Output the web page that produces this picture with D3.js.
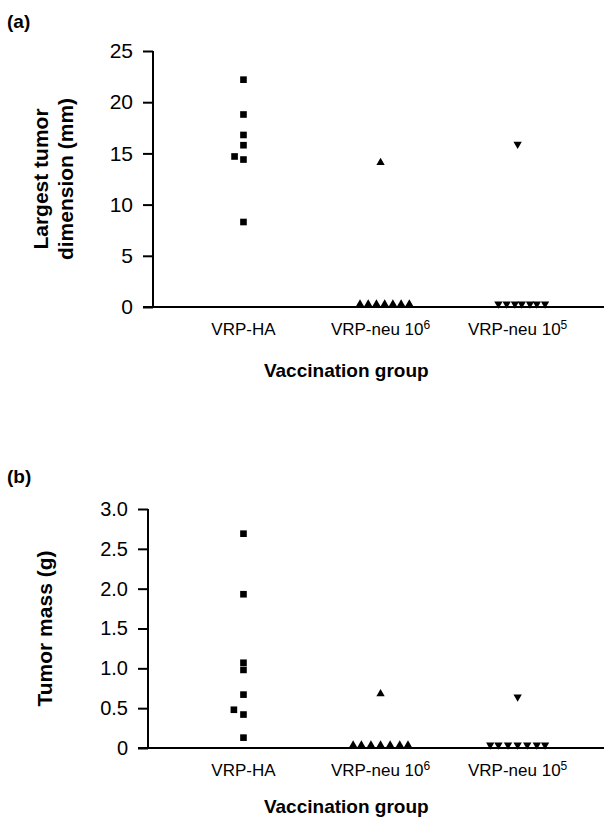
<!DOCTYPE html>
<html>
<head>
<meta charset="utf-8">
<script src="https://cdn.jsdelivr.net/npm/d3@7"></script>
<style>
  body { margin: 0; background: #fff; }
  svg { display: block; font-family: "Liberation Sans", Arial, sans-serif; }
</style>
</head>
<body>
<div id="chart"></div>
<script>
// category labels (base text + superscript)
var categoryNames = ['VRP-HA', 'VRP-neu 10', 'VRP-neu 10'];
var categorySups = ['', '6', '5'];
var categoryPos = [1, 2, 3];

// (a) largest tumor dimension (mm)
var dimHA_x = [1, 1, 1, 1, 0.935, 1, 1];
var dimHA_y = [22.2, 18.8, 16.8, 15.8, 14.7, 14.4, 8.3];
var dimNeu6_x = [2, 1.85, 1.91, 1.97, 2.03, 2.09, 2.15, 2.21];
var dimNeu6_y = [14.1, 0, 0, 0, 0, 0, 0, 0];
var dimNeu5_x = [3, 2.86, 2.92, 2.98, 3.03, 3.09, 3.14, 3.2];
var dimNeu5_y = [15.9, 0, 0, 0, 0, 0, 0, 0];
var dimTicks = [0, 5, 10, 15, 20, 25];

// (b) tumor mass (g)
var massHA_x = [1, 1, 1, 1, 1, 0.93, 1, 1];
var massHA_y = [2.69, 1.93, 1.07, 0.98, 0.67, 0.48, 0.42, 0.13];
var massNeu6_x = [2, 1.8, 1.86, 1.93, 2.0, 2.07, 2.14, 2.2];
var massNeu6_y = [0.68, 0, 0, 0, 0, 0, 0, 0];
var massNeu5_x = [3, 2.8, 2.86, 2.93, 3.0, 3.07, 3.14, 3.2];
var massNeu5_y = [0.64, 0, 0, 0, 0, 0, 0, 0];
var massTicks = [0, 0.5, 1.0, 1.5, 2.0, 2.5, 3.0];

var svgWidth = 606;
var svgHeight = 819;

var svg = d3.select('#chart')
    .append('svg')
    .attr('width', svgWidth)
    .attr('height', svgHeight);

function zip(xs, ys, shape) {
    return xs.map((x, i) => ({ x: x, y: ys[i], shape: shape }));
}

var panels = [
    {
        letter: '(a)', letterY: 28,
        left: 153, right: 604, top: 51, bottom: 307,
        domain: [0, 25], ticks: dimTicks, fmt: d => d,
        tickSize: 21, xTitleY: 377,
        title: ['Largest tumor', 'dimension (mm)'], titleX: 52,
        points: zip(dimHA_x, dimHA_y, 'square')
            .concat(zip(dimNeu6_x, dimNeu6_y, 'up'))
            .concat(zip(dimNeu5_x, dimNeu5_y, 'down'))
    },
    {
        letter: '(b)', letterY: 483,
        left: 148, right: 604, top: 509, bottom: 748,
        domain: [0, 3], ticks: massTicks, fmt: d => d === 0 ? '0' : d.toFixed(1),
        tickSize: 20, xTitleY: 813,
        title: ['Tumor mass (g)'], titleX: 52,
        points: zip(massHA_x, massHA_y, 'square')
            .concat(zip(massNeu6_x, massNeu6_y, 'up'))
            .concat(zip(massNeu5_x, massNeu5_y, 'down'))
    }
];

panels.forEach(p => {
    var g = svg.append('g');

    // x is in category units, y linear
    var x = d3.scaleLinear()
        .domain([0.34 + (p.left - 153) / 137, 3.63])
        .range([p.left, p.right]);

    var y = d3.scaleLinear()
        .domain(p.domain)
        .range([p.bottom, p.top]);

    // panel letter
    g.append('text')
        .attr('x', 7)
        .attr('y', p.letterY)
        .attr('font-size', 19)
        .attr('font-weight', 'bold')
        .text(p.letter);

    // y axis
    var yAxis = g.append('g')
        .attr('transform', `translate(${p.left},0)`)
        .call(d3.axisLeft(y).tickValues(p.ticks).tickFormat(p.fmt).tickSize(10).tickPadding(10));
    yAxis.selectAll('path, line').attr('stroke', '#000').attr('stroke-width', 2);
    yAxis.select('.domain').attr('d', `M0,${p.bottom}V${p.top}`);
    yAxis.selectAll('text')
        .attr('font-size', p.tickSize)
        .attr('font-family', '"Liberation Sans", Arial, sans-serif')
        .attr('fill', '#000');

    // x axis line
    g.append('line')
        .attr('x1', p.left - 10)
        .attr('x2', p.right)
        .attr('y1', p.bottom)
        .attr('y2', p.bottom)
        .attr('stroke', '#000')
        .attr('stroke-width', 2);

    // category labels
    var labels = g.selectAll('.cat')
        .data(categoryPos)
        .enter()
        .append('text')
        .attr('class', 'cat')
        .attr('x', d => x(d))
        .attr('y', p.bottom + 28)
        .attr('text-anchor', 'middle')
        .attr('font-size', 17);
    labels.append('tspan').text((d, i) => categoryNames[i]);
    labels.append('tspan')
        .attr('dy', -6)
        .attr('font-size', 12)
        .text((d, i) => categorySups[i]);

    // x title
    g.append('text')
        .attr('x', x(1.75))
        .attr('y', p.xTitleY)
        .attr('text-anchor', 'middle')
        .attr('font-size', 19)
        .attr('font-weight', 'bold')
        .text('Vaccination group');

    // y title
    var cy = (p.top + p.bottom) / 2;
    var yt = g.append('text')
        .attr('transform', `translate(${p.titleX},${cy}) rotate(-90)`)
        .attr('text-anchor', 'middle')
        .attr('font-size', 21)
        .attr('font-weight', 'bold');
    p.title.forEach((t, i) => {
        yt.append('tspan')
            .attr('x', 0)
            .attr('dy', i === 0 ? (p.title.length > 1 ? -4 : 0) : 25)
            .text(t);
    });

    // markers
    var sq = d3.symbol().type(d3.symbolSquare).size(44);
    var tri = d3.symbol().type(d3.symbolTriangle).size(30);
    g.selectAll('.pt')
        .data(p.points)
        .enter()
        .append('path')
        .attr('class', 'pt')
        .attr('d', d => d.shape === 'square' ? sq() : tri())
        .attr('transform', d => `translate(${x(d.x)},${y(d.y) - (d.shape === 'square' ? 0 : (d.y === 0 ? 3 : 0))})` + (d.shape === 'down' ? ' rotate(180)' : ''))
        .attr('fill', '#000');
});
</script>
</body>
</html>
